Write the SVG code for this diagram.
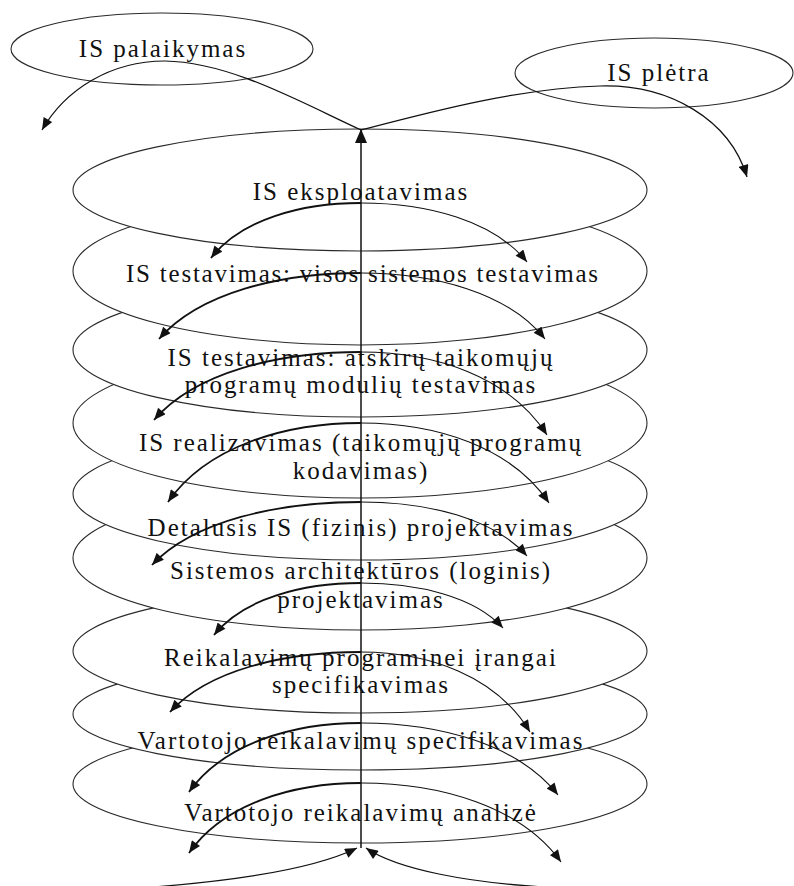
<svg xmlns="http://www.w3.org/2000/svg" width="794" height="886" viewBox="0 0 794 886">
  <style>
    .stage { fill: #ffffff; stroke: #2a2a2a; stroke-width: 1.1; }
    .cloud { fill: none; stroke: #2a2a2a; stroke-width: 1.1; }
    .lbl { font-family: "Liberation Serif", "Times New Roman", serif; font-size: 25px; letter-spacing: 2px; fill: #111111; text-anchor: middle; }
    .flow { fill: none; stroke: #111111; stroke-width: 1.2; }
    .flow-l { fill: none; stroke: #111111; stroke-width: 1.8; }
    .flow-r { fill: none; stroke: #111111; stroke-width: 1.1; }
    .axis { fill: none; stroke: #111111; stroke-width: 1.5; }
  </style>
  <defs>
    <marker id="ah" viewBox="0 0 12 10" refX="12" refY="5" markerWidth="13" markerHeight="10" markerUnits="userSpaceOnUse" orient="auto">
      <path d="M0,0 L12,5 L0,10 z" fill="#111111"/>
    </marker>
    <marker id="ah-big" viewBox="0 0 14 12" refX="14" refY="6" markerWidth="14" markerHeight="13" markerUnits="userSpaceOnUse" orient="auto">
      <path d="M0,0 L14,6 L0,12 z" fill="#111111"/>
    </marker>
  </defs>

  <rect width="794" height="886" fill="#ffffff"/>

  <!-- stacked life-cycle stages, drawn from the bottom up so each upper ring covers the one below -->
  <g id="stage-analize">
    <ellipse class="stage" cx="360" cy="784" rx="287" ry="59"/>
    <text class="lbl" x="361" y="821">Vartotojo reikalavimų analizė</text>
  </g>
  <g id="stage-vartotojo-spec">
    <ellipse class="stage" cx="360" cy="714" rx="287" ry="56"/>
    <text class="lbl" x="361" y="749">Vartotojo reikalavimų specifikavimas</text>
  </g>
  <g id="stage-reikalavimai-pi">
    <ellipse class="stage" cx="360" cy="651" rx="287" ry="62"/>
    <text class="lbl" x="361" y="666">Reikalavimų programinei įrangai</text>
    <text class="lbl" x="361" y="693">specifikavimas</text>
  </g>
  <g id="stage-architektura">
    <ellipse class="stage" cx="360" cy="558" rx="287" ry="72"/>
    <text class="lbl" x="361" y="579">Sistemos architektūros (loginis)</text>
    <text class="lbl" x="361" y="608">projektavimas</text>
  </g>
  <g id="stage-detalusis">
    <ellipse class="stage" cx="360" cy="494" rx="287" ry="66"/>
    <text class="lbl" x="361" y="536">Detalusis IS (fizinis) projektavimas</text>
  </g>
  <g id="stage-realizavimas">
    <ellipse class="stage" cx="360" cy="423" rx="287" ry="75"/>
    <text class="lbl" x="361" y="451">IS realizavimas (taikomųjų programų</text>
    <text class="lbl" x="361" y="479">kodavimas)</text>
  </g>
  <g id="stage-moduliu-testavimas">
    <ellipse class="stage" cx="360" cy="350" rx="287" ry="67"/>
    <text class="lbl" x="361" y="366">IS testavimas: atskirų taikomųjų</text>
    <text class="lbl" x="361" y="393">programų modulių testavimas</text>
  </g>
  <g id="stage-sistemos-testavimas">
    <ellipse class="stage" cx="360" cy="271" rx="287" ry="74"/>
    <text class="lbl" x="363" y="282" textLength="474" lengthAdjust="spacing">IS testavimas: visos sistemos testavimas</text>
  </g>
  <g id="stage-eksploatavimas">
    <ellipse class="stage" cx="360" cy="190" rx="287" ry="61"/>
    <text class="lbl" x="361" y="200">IS eksploatavimas</text>
  </g>

  <!-- branches leaving the cycle -->
  <g id="stage-palaikymas">
    <ellipse class="cloud" cx="162" cy="49" rx="151" ry="36"/>
    <text class="lbl" x="163" y="57">IS palaikymas</text>
  </g>
  <g id="stage-pletra">
    <ellipse class="cloud" cx="654" cy="73" rx="139" ry="35"/>
    <text class="lbl" x="659" y="81">IS plėtra</text>
  </g>

  <!-- connectors -->
  <g id="connectors">
    <!-- main upward axis -->
    <path class="axis" d="M361,848 L361,129" marker-end="url(#ah-big)"/>

    <!-- exits to maintenance and development -->
    <path class="flow" d="M361,130 C300,102 230,62 165,61 C110,61 65,90 42,130" marker-end="url(#ah)"/>
    <path class="flow" d="M361,130 C430,112 520,88 600,86 C670,84 730,120 747,177" marker-end="url(#ah)"/>

    <!-- stage to stage arcs -->
    <path class="flow-l" d="M361,203 C301,203 241,219.5 211,258" marker-end="url(#ah)"/>
    <path class="flow-r" d="M361,203 C427.4,203 493.8,220.7 527,262" marker-end="url(#ah)"/>

    <path class="flow-l" d="M361,273 C280.2,273 199.4,292.8 159,339" marker-end="url(#ah)"/>
    <path class="flow-r" d="M361,273 C434.6,273 508.2,292.8 545,339" marker-end="url(#ah)"/>

    <path class="flow-l" d="M361,352 C278.2,352 195.4,372.4 154,420" marker-end="url(#ah)"/>
    <path class="flow-r" d="M361,352 C435.4,352 509.8,376.9 547,435" marker-end="url(#ah)"/>

    <path class="flow-l" d="M361,423 C283.8,423 206.6,446.7 168,502" marker-end="url(#ah)"/>
    <path class="flow-r" d="M361,423 C436.2,423 511.4,447 549,503" marker-end="url(#ah)"/>

    <path class="flow-l" d="M361,502 C277.4,502 193.8,520.9 152,565" marker-end="url(#ah)"/>
    <path class="flow-r" d="M361,502 C427.4,502 493.8,518.2 527,556" marker-end="url(#ah)"/>

    <path class="flow-l" d="M361,583 C302.2,583 243.4,598.6 214,635" marker-end="url(#ah)"/>
    <path class="flow-r" d="M361,583 C417.8,583 474.6,596.5 503,628" marker-end="url(#ah)"/>

    <path class="flow-l" d="M361,652 C284.6,652 208.2,670 170,712" marker-end="url(#ah)"/>
    <path class="flow-r" d="M361,652 C428.6,652 496.2,676 530,732" marker-end="url(#ah)"/>

    <path class="flow-l" d="M361,723 C292.2,723 223.4,743.7 189,792" marker-end="url(#ah)"/>
    <path class="flow-r" d="M361,723 C439.8,723 518.6,744.6 558,795" marker-end="url(#ah)"/>

    <path class="flow-l" d="M361,783 C292.2,783 223.4,804 189,853" marker-end="url(#ah)"/>
    <path class="flow-r" d="M361,783 C441,783 521,806.7 561,862" marker-end="url(#ah)"/>

    <!-- returns into the cycle from below -->
    <path class="flow" d="M140,888 C225,882 312,870 357,848" marker-end="url(#ah)"/>
    <path class="flow" d="M565,888 C465,884 395,868 366,848" marker-end="url(#ah)"/>
  </g>
</svg>
